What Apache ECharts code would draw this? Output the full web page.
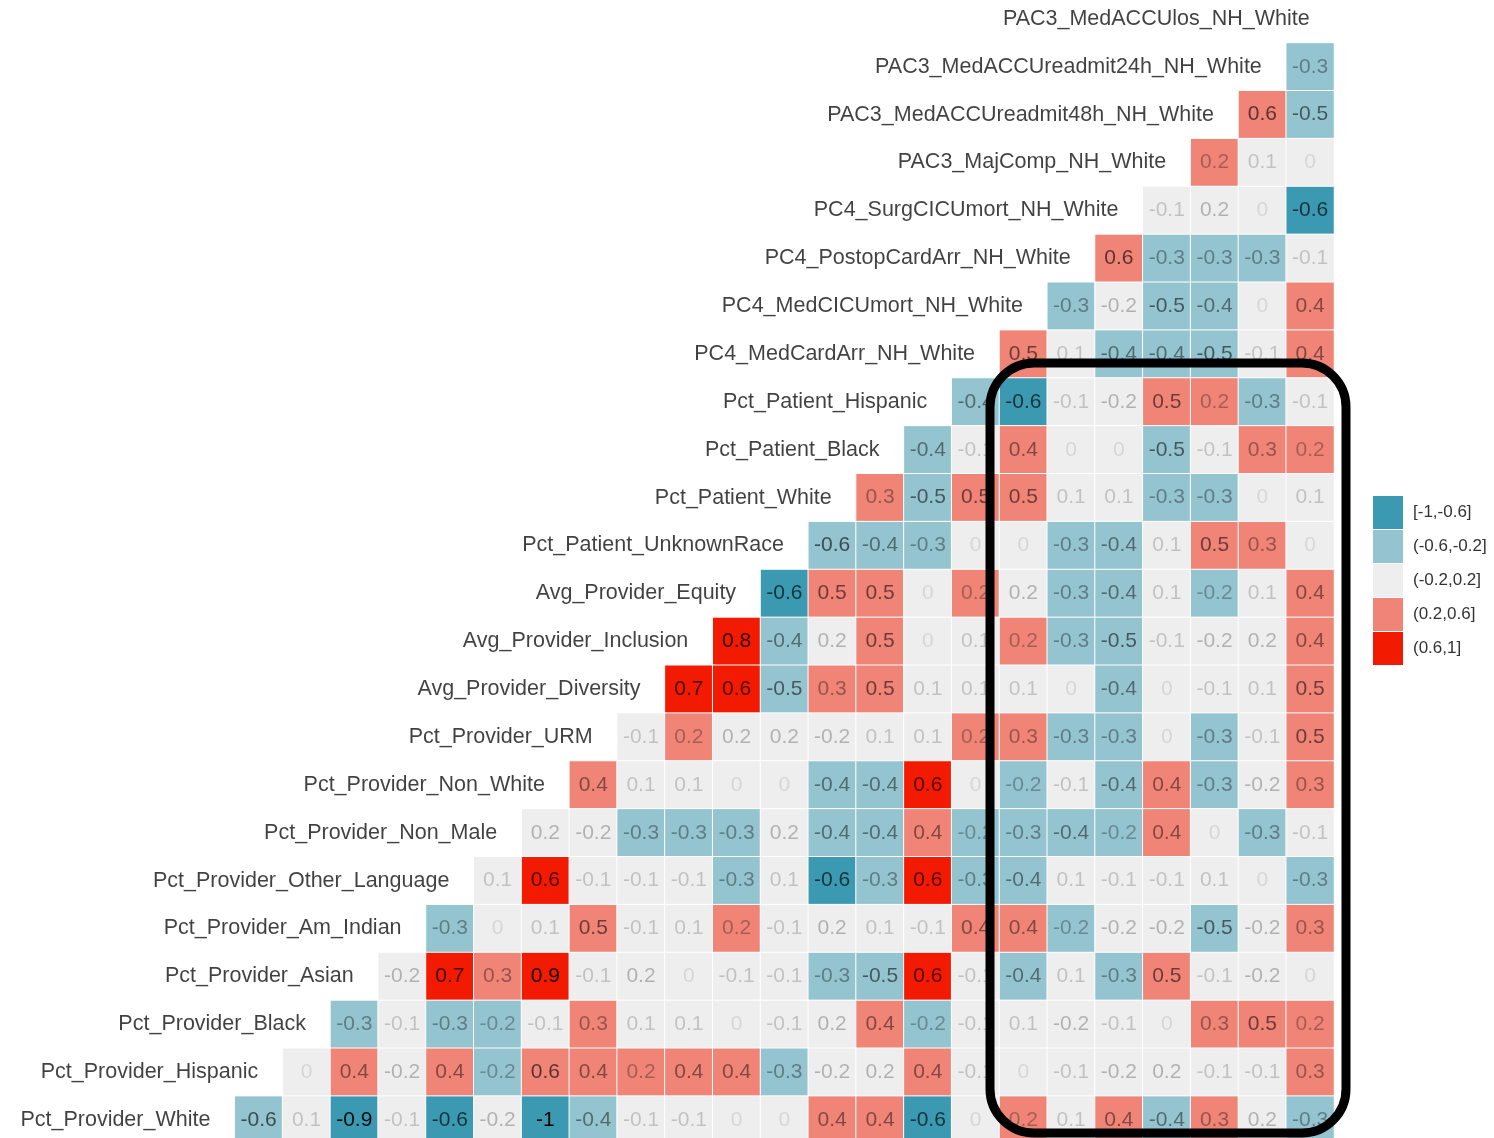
<!DOCTYPE html>
<html>
<head>
<meta charset="utf-8">
<title>correlation matrix</title>
<script src="https://cdn.jsdelivr.net/npm/echarts@6/dist/echarts.min.js"></script>
<style>
html, body { margin: 0; padding: 0; background: #fff; }
#main { width: 1494px; height: 1138px; }
</style>
</head>
<body>
<div id="main"></div>
<script>
// variables, top to bottom (each one also names the column on its diagonal)
var variables = [
  'PAC3_MedACCUlos_NH_White',
  'PAC3_MedACCUreadmit24h_NH_White',
  'PAC3_MedACCUreadmit48h_NH_White',
  'PAC3_MajComp_NH_White',
  'PC4_SurgCICUmort_NH_White',
  'PC4_PostopCardArr_NH_White',
  'PC4_MedCICUmort_NH_White',
  'PC4_MedCardArr_NH_White',
  'Pct_Patient_Hispanic',
  'Pct_Patient_Black',
  'Pct_Patient_White',
  'Pct_Patient_UnknownRace',
  'Avg_Provider_Equity',
  'Avg_Provider_Inclusion',
  'Avg_Provider_Diversity',
  'Pct_Provider_URM',
  'Pct_Provider_Non_White',
  'Pct_Provider_Non_Male',
  'Pct_Provider_Other_Language',
  'Pct_Provider_Am_Indian',
  'Pct_Provider_Asian',
  'Pct_Provider_Black',
  'Pct_Provider_Hispanic',
  'Pct_Provider_White'
];

// lower triangle, one list per row, cells left to right
var rows = [
  [],
  [-0.3],
  [0.58, -0.5],
  [0.22, 0.1, 0],
  [-0.1, 0.18, 0, -0.62],
  [0.58, -0.3, -0.3, -0.3, -0.1],
  [-0.3, -0.18, -0.5, -0.4, 0, 0.4],
  [0.5, 0.1, -0.4, -0.4, -0.5, -0.1, 0.4],
  [-0.4, -0.62, -0.1, -0.18, 0.5, 0.22, -0.3, -0.1],
  [-0.4, -0.1, 0.4, 0, 0, -0.5, -0.1, 0.3, 0.22],
  [0.3, -0.5, 0.5, 0.5, 0.1, 0.1, -0.3, -0.3, 0, 0.1],
  [-0.58, -0.4, -0.3, 0, 0, -0.3, -0.4, 0.1, 0.5, 0.3, 0],
  [-0.62, 0.5, 0.5, 0, 0.22, 0.18, -0.3, -0.4, 0.1, -0.22, 0.1, 0.4],
  [0.8, -0.4, 0.18, 0.5, 0, 0.1, 0.22, -0.3, -0.5, -0.1, -0.18, 0.18, 0.4],
  [0.7, 0.62, -0.5, 0.3, 0.5, 0.1, 0.1, 0.1, 0, -0.4, 0, -0.1, 0.1, 0.5],
  [-0.1, 0.22, 0.18, 0.18, -0.18, 0.1, 0.1, 0.22, 0.3, -0.3, -0.3, 0, -0.3, -0.1, 0.5],
  [0.4, 0.1, 0.1, 0, 0, -0.4, -0.4, 0.62, 0, -0.22, -0.1, -0.4, 0.4, -0.3, -0.18, 0.3],
  [0.18, -0.18, -0.3, -0.3, -0.3, 0.18, -0.4, -0.4, 0.4, -0.22, -0.3, -0.4, -0.22, 0.4, 0, -0.3, -0.1],
  [0.1, 0.62, -0.1, -0.1, -0.1, -0.3, 0.1, -0.62, -0.3, 0.62, -0.3, -0.4, 0.1, -0.1, -0.1, 0.1, 0, -0.3],
  [-0.3, 0, 0.1, 0.5, -0.1, 0.1, 0.22, -0.1, 0.18, 0.1, -0.1, 0.4, 0.4, -0.22, -0.18, -0.18, -0.5, -0.18, 0.3],
  [-0.18, 0.7, 0.3, 0.9, -0.1, 0.18, 0, -0.1, -0.1, -0.3, -0.5, 0.62, -0.1, -0.4, 0.1, -0.3, 0.5, -0.1, -0.18, 0],
  [-0.3, -0.1, -0.3, -0.22, -0.1, 0.3, 0.1, 0.1, 0, -0.1, 0.18, 0.4, -0.22, -0.1, 0.1, -0.18, -0.1, 0, 0.3, 0.5, 0.22],
  [0, 0.4, -0.18, 0.4, -0.22, 0.58, 0.4, 0.22, 0.4, 0.4, -0.3, -0.18, 0.18, 0.4, -0.1, 0, -0.1, -0.18, 0.18, -0.1, -0.1, 0.3],
  [-0.58, 0.1, -0.9, -0.1, -0.62, -0.18, -1, -0.4, -0.1, -0.1, 0, 0, 0.4, 0.4, -0.62, 0, 0.22, 0.1, 0.4, -0.4, 0.3, 0.18, -0.3]
];

var binLabels = ['[-1,-0.6]', '(-0.6,-0.2]', '(-0.2,0.2]', '(0.2,0.6]', '(0.6,1]'];
var binColors = ['#3B9AB2', '#94C4D0', '#EEEEEE', '#F08477', '#F21A00'];

var n = variables.length;
var font = '"Liberation Sans", Arial, sans-serif';

function fmt(v) {
  var s = Math.round(v * 10) / 10;
  return s === 0 ? '0' : String(s);
}

var cells = [];
rows.forEach(function (vals, r) {
  vals.forEach(function (v, k) {
    cells.push({
      value: [n - vals.length + k, r, v],
      label: { color: 'rgba(0,0,0,' + (0.1 + 0.9 * Math.abs(v)).toFixed(2) + ')' }
    });
  });
});

var diag = variables.map(function (name, r) { return [n - 1 - r, r]; });

var xCats = [];
for (var i = 0; i < n; i++) xCats.push(String(i));

var chart = echarts.init(document.getElementById('main'));
chart.setOption({
  backgroundColor: '#fff',
  animation: false,
  grid: { left: 187, top: -5, width: 1147, height: 1149, outerBoundsMode: 'none', containLabel: false },
  xAxis: { type: 'category', data: xCats, show: false },
  yAxis: { type: 'category', data: variables, inverse: true, show: false },
  visualMap: {
    type: 'piecewise',
    seriesIndex: 0,
    dimension: 2,
    inverse: true,
    align: 'left',
    left: 1373,
    top: 496,
    padding: 0,
    itemWidth: 30,
    itemHeight: 33,
    itemGap: 1,
    textGap: 10,
    itemSymbol: 'rect',
    selectedMode: false,
    textStyle: { fontSize: 17, color: '#333', fontFamily: font },
    pieces: [
      { gte: -1, lte: -0.6, label: binLabels[0], color: binColors[0] },
      { gt: -0.6, lte: -0.2, label: binLabels[1], color: binColors[1] },
      { gt: -0.2, lte: 0.2, label: binLabels[2], color: binColors[2] },
      { gt: 0.2, lte: 0.6, label: binLabels[3], color: binColors[3] },
      { gt: 0.6, lte: 1, label: binLabels[4], color: binColors[4] }
    ]
  },
  series: [
    {
      type: 'heatmap',
      data: cells,
      itemStyle: { borderColor: '#fff', borderWidth: 1 },
      label: {
        show: true,
        fontSize: 21,
        fontFamily: font,
        formatter: function (p) { return fmt(p.value[2]); }
      },
      emphasis: { disabled: true }
    },
    {
      type: 'scatter',
      data: diag,
      symbolSize: 1,
      itemStyle: { color: 'rgba(0,0,0,0)' },
      label: {
        show: true,
        position: 'left',
        distance: 0,
        fontSize: 21.5,
        fontFamily: font,
        color: '#111',
        formatter: function (p) { return variables[p.value[1]]; }
      },
      emphasis: { disabled: true }
    }
  ],
  graphic: [
    {
      type: 'rect',
      z: 100,
      shape: { x: 990, y: 363, width: 356, height: 770, r: 44 },
      style: { fill: null, stroke: '#000', lineWidth: 9 }
    }
  ]
});
</script>
</body>
</html>
